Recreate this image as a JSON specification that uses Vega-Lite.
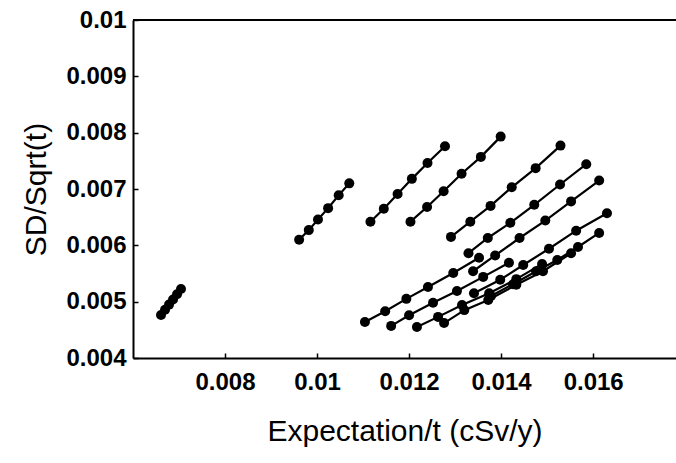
{
  "$schema": "https://vega.github.io/schema/vega-lite/v6.json",
  "width": 543,
  "height": 338,
  "autosize": "none",
  "padding": {"left": 133, "top": 20, "right": 0, "bottom": 105},
  "background": "white",
  "config": {
    "view": {"stroke": null},
    "font": "Liberation Sans"
  },
  "data": {
    "values": [
      {"s": "A", "i": 1, "x": 0.006609, "y": 0.004763},
      {"s": "A", "i": 2, "x": 0.006696, "y": 0.004856},
      {"s": "A", "i": 3, "x": 0.006783, "y": 0.004948},
      {"s": "A", "i": 4, "x": 0.006870, "y": 0.005040},
      {"s": "A", "i": 5, "x": 0.006957, "y": 0.005133},
      {"s": "A", "i": 6, "x": 0.007043, "y": 0.005225},
      {"s": "B", "i": 1, "x": 0.00961, "y": 0.00610},
      {"s": "B", "i": 2, "x": 0.00982, "y": 0.00627},
      {"s": "B", "i": 3, "x": 0.01002, "y": 0.00646},
      {"s": "B", "i": 4, "x": 0.01024, "y": 0.00666},
      {"s": "B", "i": 5, "x": 0.01047, "y": 0.00689},
      {"s": "B", "i": 6, "x": 0.01070, "y": 0.00710},
      {"s": "C", "i": 1, "x": 0.01116, "y": 0.00642},
      {"s": "C", "i": 2, "x": 0.01145, "y": 0.00665},
      {"s": "C", "i": 3, "x": 0.01175, "y": 0.00691},
      {"s": "C", "i": 4, "x": 0.01206, "y": 0.00718},
      {"s": "C", "i": 5, "x": 0.01240, "y": 0.00746},
      {"s": "C", "i": 6, "x": 0.01278, "y": 0.00776},
      {"s": "D", "i": 1, "x": 0.01203, "y": 0.00642},
      {"s": "D", "i": 2, "x": 0.01239, "y": 0.00668},
      {"s": "D", "i": 3, "x": 0.01275, "y": 0.00696},
      {"s": "D", "i": 4, "x": 0.01314, "y": 0.00727},
      {"s": "D", "i": 5, "x": 0.01356, "y": 0.00757},
      {"s": "D", "i": 6, "x": 0.01399, "y": 0.00793},
      {"s": "E", "i": 1, "x": 0.01291, "y": 0.00615},
      {"s": "E", "i": 2, "x": 0.01333, "y": 0.00642},
      {"s": "E", "i": 3, "x": 0.01377, "y": 0.00670},
      {"s": "E", "i": 4, "x": 0.01423, "y": 0.00703},
      {"s": "E", "i": 5, "x": 0.01475, "y": 0.00737},
      {"s": "E", "i": 6, "x": 0.01529, "y": 0.00777},
      {"s": "F", "i": 1, "x": 0.01329, "y": 0.00586},
      {"s": "F", "i": 2, "x": 0.01371, "y": 0.00613},
      {"s": "F", "i": 3, "x": 0.01420, "y": 0.00640},
      {"s": "F", "i": 4, "x": 0.01472, "y": 0.00672},
      {"s": "F", "i": 5, "x": 0.01528, "y": 0.00708},
      {"s": "F", "i": 6, "x": 0.01585, "y": 0.00744},
      {"s": "G", "i": 1, "x": 0.01339, "y": 0.00554},
      {"s": "G", "i": 2, "x": 0.01387, "y": 0.00582},
      {"s": "G", "i": 3, "x": 0.01440, "y": 0.00613},
      {"s": "G", "i": 4, "x": 0.01496, "y": 0.00644},
      {"s": "G", "i": 5, "x": 0.01552, "y": 0.00678},
      {"s": "G", "i": 6, "x": 0.01613, "y": 0.00715},
      {"s": "H", "i": 1, "x": 0.01104, "y": 0.00464},
      {"s": "H", "i": 2, "x": 0.01148, "y": 0.00483},
      {"s": "H", "i": 3, "x": 0.01194, "y": 0.00505},
      {"s": "H", "i": 4, "x": 0.01241, "y": 0.00526},
      {"s": "H", "i": 5, "x": 0.01296, "y": 0.00551},
      {"s": "H", "i": 6, "x": 0.01352, "y": 0.00578},
      {"s": "J", "i": 1, "x": 0.01161, "y": 0.00457},
      {"s": "J", "i": 2, "x": 0.01200, "y": 0.00476},
      {"s": "J", "i": 3, "x": 0.01252, "y": 0.00498},
      {"s": "J", "i": 4, "x": 0.01304, "y": 0.00519},
      {"s": "J", "i": 5, "x": 0.01361, "y": 0.00544},
      {"s": "J", "i": 6, "x": 0.01417, "y": 0.00569},
      {"s": "L", "i": 1, "x": 0.01217, "y": 0.00455},
      {"s": "L", "i": 2, "x": 0.01263, "y": 0.00473},
      {"s": "L", "i": 3, "x": 0.01315, "y": 0.00494},
      {"s": "L", "i": 4, "x": 0.01374, "y": 0.00515},
      {"s": "L", "i": 5, "x": 0.01433, "y": 0.00540},
      {"s": "L", "i": 6, "x": 0.01489, "y": 0.00567},
      {"s": "M", "i": 1, "x": 0.01276, "y": 0.00462},
      {"s": "M", "i": 2, "x": 0.01320, "y": 0.00485},
      {"s": "M", "i": 3, "x": 0.01372, "y": 0.00503},
      {"s": "M", "i": 4, "x": 0.01433, "y": 0.00530},
      {"s": "M", "i": 5, "x": 0.01491, "y": 0.00554},
      {"s": "M", "i": 6, "x": 0.01552, "y": 0.00586},
      {"s": "K", "i": 1, "x": 0.01341, "y": 0.00515},
      {"s": "K", "i": 2, "x": 0.01398, "y": 0.00539},
      {"s": "K", "i": 3, "x": 0.01448, "y": 0.00565},
      {"s": "K", "i": 4, "x": 0.01504, "y": 0.00594},
      {"s": "K", "i": 5, "x": 0.01563, "y": 0.00626},
      {"s": "K", "i": 6, "x": 0.01630, "y": 0.00657},
      {"s": "I", "i": 1, "x": 0.01378, "y": 0.00510},
      {"s": "I", "i": 2, "x": 0.01426, "y": 0.00531},
      {"s": "I", "i": 3, "x": 0.01476, "y": 0.00554},
      {"s": "I", "i": 4, "x": 0.01522, "y": 0.00574},
      {"s": "I", "i": 5, "x": 0.01567, "y": 0.00597},
      {"s": "I", "i": 6, "x": 0.01613, "y": 0.00622}
    ]
  },
  "encoding": {
    "x": {
      "field": "x", "type": "quantitative",
      "scale": {"domain": [0.006, 0.0178], "nice": false, "zero": false},
      "axis": {
        "title": "Expectation/t  (cSv/y)",
        "values": [0.008, 0.01, 0.012, 0.014, 0.016],
        "format": "~g",
        "grid": false, "ticks": true, "tickSize": -5, "tickWidth": 1.5, "tickColor": "black",
        "domainColor": "black", "domainWidth": 2,
        "labelFont": "Liberation Sans", "labelFontWeight": "bold", "labelFontSize": 24, "labelColor": "black",
        "labelPadding": 17,
        "titleFont": "Liberation Sans", "titleFontWeight": "normal", "titleFontSize": 30, "titleColor": "black",
        "titlePadding": 22
      }
    },
    "y": {
      "field": "y", "type": "quantitative",
      "scale": {"domain": [0.004, 0.01], "nice": false, "zero": false},
      "axis": {
        "title": "SD/Sqrt(t)",
        "values": [0.004, 0.005, 0.006, 0.007, 0.008, 0.009, 0.01],
        "format": "~g",
        "grid": false, "ticks": true, "tickSize": -5, "tickWidth": 1.5, "tickColor": "black",
        "domainColor": "black", "domainWidth": 2,
        "labelFont": "Liberation Sans", "labelFontWeight": "bold", "labelFontSize": 24, "labelColor": "black",
        "labelPadding": 12,
        "titleFont": "Liberation Sans", "titleFontWeight": "normal", "titleFontSize": 30, "titleColor": "black",
        "titlePadding": 14
      }
    }
  },
  "layer": [
    {
      "mark": {"type": "rule", "color": "black", "strokeWidth": 2},
      "encoding": {"x": {"datum": 0.006}, "x2": {"datum": 0.0178}, "y": {"datum": 0.01}}
    },
    {
      "mark": {"type": "line", "color": "black", "strokeWidth": 2.2},
      "encoding": {"detail": {"field": "s"}, "order": {"field": "i", "type": "quantitative"}}
    },
    {
      "mark": {"type": "point", "filled": true, "color": "black", "opacity": 1, "size": 100}
    }
  ]
}
